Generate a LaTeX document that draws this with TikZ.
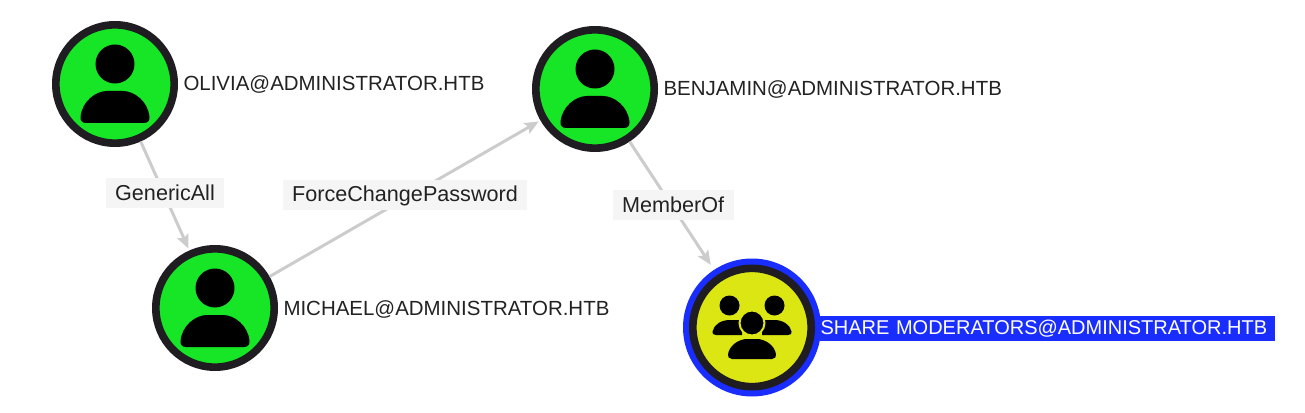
\documentclass[tikz,border=0pt]{standalone}
\usepackage{fontspec}
\setmainfont{Liberation Sans}
\usetikzlibrary{arrows.meta}

\definecolor{usergreen}{HTML}{16E625}
\definecolor{groupyellow}{HTML}{DCE612}
\definecolor{ringdark}{HTML}{1F1D22}
\definecolor{markblue}{HTML}{1A2DFF}
\definecolor{edgegrey}{HTML}{CCCCCC}
\definecolor{labelgrey}{HTML}{F5F5F5}
\definecolor{textdark}{HTML}{222222}

\tikzset{
  every picture/.style={line width=0.75pt},
  usernode/.style={circle,draw=ringdark,fill=usergreen,line width=5.75pt,minimum size=88.75pt,inner sep=0pt},
  groupnode/.style={usernode,fill=groupyellow},
  markring/.style={circle,fill=markblue,minimum size=103.5pt,inner sep=0pt,outer sep=3pt},
  namelabel/.style={font=\fontsize{15.35}{18}\selectfont,text=textdark,anchor=west,inner sep=0pt},
  marklabel/.style={font=\fontsize{15}{18}\selectfont,text=white,anchor=west,fill=markblue,inner xsep=0.75pt,inner ysep=0pt,
    text width=340pt,minimum height=18.75pt,align=left},
  edgelabel/.style={font=\fontsize{16.2}{19}\selectfont,text=textdark,fill=labelgrey,midway,yshift=2.25pt,inner xsep=7pt,inner ysep=0pt,minimum height=22.5pt},
  linkedge/.style={edgegrey,line width=2.25pt,-{Stealth[length=10.5pt,width=9pt,inset=2pt]},shorten >=1.5pt},
  personicon/.pic={
    \begin{scope}[yscale=-1]
    \fill[black] (0,-20) circle (19.5);
    \fill[black] (-29,39) .. controls (-33,39) and (-35,36) .. (-34.5,33)
      .. controls (-33,17) and (-19,7) .. (-8,7) -- (8,7)
      .. controls (19,7) and (33,17) .. (34.5,33)
      .. controls (35,36) and (33,39) .. (29,39) -- cycle;
    \end{scope}
  },
  groupicon/.pic={
    \begin{scope}[yscale=-1]
    \fill[black] (-22.5,-22) circle (10);
    \fill[black] (22.5,-22) circle (10);
    \fill[black] (-36,7.5) .. controls (-39,7.5) and (-40,6) .. (-39.5,4)
      .. controls (-38,-3) and (-31,-7.5) .. (-22,-7.5) -- (-10,-7.5) -- (-10,7.5) -- cycle;
    \fill[black] (36,7.5) .. controls (39,7.5) and (40,6) .. (39.5,4)
      .. controls (38,-3) and (31,-7.5) .. (22,-7.5) -- (10,-7.5) -- (10,7.5) -- cycle;
    \filldraw[fill=black,draw=groupyellow,line width=1.5pt] (0,-4.5) circle (12.5);
    \fill[black] (-20,31.5) .. controls (-23,31.5) and (-24.5,29) .. (-24,27)
      .. controls (-23,18) and (-13,11.5) .. (-5,11.5) -- (5,11.5)
      .. controls (13,11.5) and (23,18) .. (24,27)
      .. controls (24.5,29) and (23,31.5) .. (20,31.5) -- cycle;
    \end{scope}
  },
}

\begin{document}
\begin{tikzpicture}[x=0.75pt,y=0.75pt,yscale=-1,xscale=1]
\path[use as bounding box] (0,0) rectangle (1305,413);

% Share label sits behind the ring
\node[marklabel] (sharename) at (819,328.5) {SHARE MODERATORS@ADMINISTRATOR.HTB};

% Circles
\node[usernode] (olivia) at (115,84) {};
\node[usernode] (benjamin) at (595,89) {};
\node[usernode] (michael) at (215,308) {};
\node[markring] (sharering) at (752,327.5) {};
\node[groupnode] (share) at (752,327.5) {};

% Icons
\pic at (olivia) {personicon};
\pic at (benjamin) {personicon};
\pic at (michael) {personicon};
\pic at (share) {groupicon};

% Names
\node[namelabel] (olivianame) at (183,85) {OLIVIA@ADMINISTRATOR.HTB};
\node[namelabel] (benjaminname) at (663,90) {BENJAMIN@ADMINISTRATOR.HTB};
\node[namelabel] (michaelname) at (283,309) {MICHAEL@ADMINISTRATOR.HTB};

% Edges
\draw[linkedge] (olivia) -- (michael) node[edgelabel] (genericall) {GenericAll};
\draw[linkedge] (michael) -- (benjamin) node[edgelabel] (forcechange) {ForceChangePassword};
\draw[linkedge] (benjamin) -- (sharering) node[edgelabel,pos=.53] (memberof) {MemberOf};

\end{tikzpicture}
\end{document}
